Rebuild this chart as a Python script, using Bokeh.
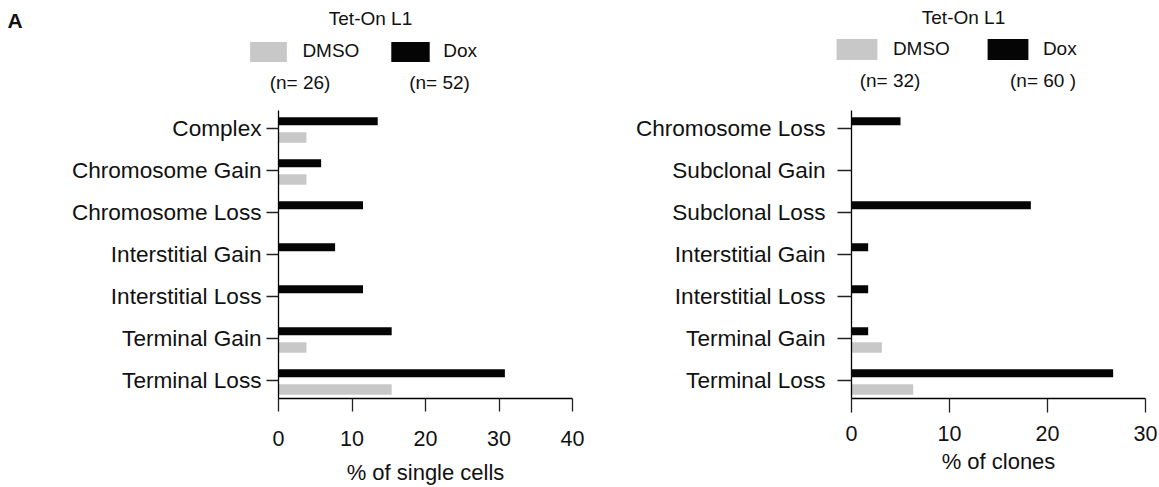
from bokeh.plotting import figure
from bokeh.layouts import row, column
from bokeh.models import (ColumnDataSource, Range1d, FixedTicker, Label, Legend, LegendItem)
from bokeh.transform import dodge
from bokeh.embed import file_html
from bokeh.resources import INLINE

FONT = "Liberation Sans"

# Panel 1: single cells (Tet-On L1)
cells_categories = ["Complex", "Chromosome Gain", "Chromosome Loss", "Interstitial Gain",
                    "Interstitial Loss", "Terminal Gain", "Terminal Loss"]
cells_dmso = [3.8, 3.8, 0.0, 0.0, 0.0, 3.8, 15.4]
cells_dox = [13.5, 5.8, 11.5, 7.7, 11.5, 15.4, 30.8]
cells_n = ["(n= 26)", "(n= 52)"]
cells_ticks = [0, 10, 20, 30, 40]

# Panel 2: clones (Tet-On L1)
clone_categories = ["Chromosome Loss", "Subclonal Gain", "Subclonal Loss", "Interstitial Gain",
                    "Interstitial Loss", "Terminal Gain", "Terminal Loss"]
clone_dmso = [0.0, 0.0, 0.0, 0.0, 0.0, 3.1, 6.3]
clone_dox = [5.0, 0.0, 18.3, 1.7, 1.7, 1.7, 26.7]
clone_n = ["(n= 32)", "(n= 60 )"]
clone_ticks = [0, 10, 20, 30]

treatments = ["DMSO", "Dox"]
colors = {"DMSO": "#c8c8c8", "Dox": "#050505"}
TEXT = "#111111"
HEADER_H = 100


def make_panel(categories, dmso, dox, xmax, ticks, xlabel, width, border_left, border_right,
               border_top, border_bottom, ylab_standoff, ytick_out, xtick_out, xlab_standoff,
               xtitle_standoff):
    n = len(categories)
    pos = [n - 1 - i for i in range(n)]
    src = ColumnDataSource(dict(pos=pos, dmso=dmso, dox=dox))
    p = figure(width=width, height=487 - HEADER_H, frame_width=294, frame_height=288,
               x_range=Range1d(0, xmax), y_range=Range1d(-0.43, n - 1 + 0.43),
               output_backend="svg", toolbar_location=None,
               min_border_left=border_left, min_border_right=border_right,
               min_border_top=border_top, min_border_bottom=border_bottom)
    p.outline_line_color = None
    p.grid.visible = False
    p.background_fill_color = None
    p.border_fill_color = None

    # Dox bar sits just above each category tick, DMSO just below
    p.hbar(y=dodge("pos", 0.174), left=0, right="dox", height=0.19, source=src,
           fill_color=colors["Dox"], line_color=None)
    p.hbar(y=dodge("pos", -0.214), left=0, right="dmso", height=0.25, source=src,
           fill_color=colors["DMSO"], line_color=None)

    ya = p.yaxis[0]
    ya.ticker = FixedTicker(ticks=pos)
    ya.major_label_overrides = {pv: c for pv, c in zip(pos, categories)}
    ya.minor_tick_line_color = None
    ya.major_tick_in = 0
    ya.major_tick_out = ytick_out
    ya.major_label_standoff = ylab_standoff
    ya.major_label_text_font = FONT
    ya.major_label_text_font_size = "22.6px"
    ya.major_label_text_color = TEXT
    ya.axis_line_color = "#000000"
    ya.axis_line_width = 1.3
    ya.major_tick_line_color = "#222222"
    ya.major_tick_line_width = 1.3

    xa = p.xaxis[0]
    xa.ticker = FixedTicker(ticks=ticks)
    xa.minor_tick_line_color = None
    xa.major_tick_in = 0
    xa.major_tick_out = xtick_out
    xa.major_label_standoff = xlab_standoff
    xa.major_label_text_font = FONT
    xa.major_label_text_font_size = "21.5px"
    xa.major_label_text_color = TEXT
    xa.axis_label = xlabel
    xa.axis_label_text_font = FONT
    xa.axis_label_text_font_size = "22px"
    xa.axis_label_text_font_style = "normal"
    xa.axis_label_text_color = TEXT
    xa.axis_label_standoff = xtitle_standoff
    xa.axis_line_color = "#000000"
    xa.axis_line_width = 1.3
    xa.major_tick_line_color = "#222222"
    xa.major_tick_line_width = 1.3
    return p


def make_header(width, title_xy, swatches, n_labels, n_y):
    h = figure(width=width, height=HEADER_H, x_range=Range1d(0, width),
               y_range=Range1d(0, HEADER_H), output_backend="svg", toolbar_location=None,
               x_axis_location=None, y_axis_location=None, min_border=0)
    h.outline_line_color = None
    h.grid.visible = False
    h.background_fill_color = None
    h.border_fill_color = None
    h.add_layout(Label(x=title_xy[0], y=title_xy[1], x_units="screen", y_units="screen",
                       text="Tet-On L1", text_font=FONT, text_font_size="19px",
                       text_align="center", text_baseline="middle", text_color=TEXT))
    # swatch spec: left edge, bottom edge (from header bottom), width, height, text gap
    for name, (sl, sb, sw, sh, gap) in zip(treatments, swatches):
        # key renderer: a zero-length bar kept below the visible header area
        r = h.hbar(y=[-50], left=[0], right=[0], height=1,
                   fill_color=colors[name], line_color=None)
        # legend area keys are inset by 10% on each side
        gw, gh = sw / 0.8, sh / 0.8
        lx, ly = sl - 0.1 * gw, sb - 0.1 * gh
        lg = Legend(items=[LegendItem(label=name, renderers=[r])],
                    location=(lx, ly), orientation="horizontal",
                    glyph_width=round(gw), glyph_height=round(gh), label_height=round(gh),
                    label_standoff=round(gap - 0.1 * gw),
                    padding=0, margin=0, spacing=0,
                    border_line_color=None, background_fill_alpha=0,
                    label_text_font=FONT, label_text_font_size="19px",
                    label_text_color=TEXT)
        h.add_layout(lg, "center")
    for text, nx in zip(n_labels[0], n_labels[1]):
        h.add_layout(Label(x=nx, y=n_y, x_units="screen", y_units="screen", text=text,
                           text_font=FONT, text_font_size="19px", text_align="center",
                           text_baseline="middle", text_color=TEXT))
    return h


h1 = make_header(600, (370, 82), [(250, 39, 37, 20, 16), (391, 39, 38, 20, 14)],
                 (cells_n, [299.5, 439]), 18)
h1.add_layout(Label(x=7, y=80, x_units="screen", y_units="screen", text="A",
                    text_font=FONT, text_font_size="21px", text_font_style="bold",
                    text_align="left", text_baseline="middle", text_color=TEXT))
h2 = make_header(559, (363, 83), [(236, 41, 41, 21, 16), (387, 41, 41, 21, 15)],
                 (clone_n, [289.5, 442.5]), 20)

p1 = make_panel(cells_categories, cells_dmso, cells_dox, 40, cells_ticks,
                "% of single cells", 600, 278, 28, 10, 89,
                ylab_standoff=5, ytick_out=12, xtick_out=13, xlab_standoff=19,
                xtitle_standoff=11)
p2 = make_panel(clone_categories, clone_dmso, clone_dox, 30, clone_ticks,
                "% of clones", 559, 251, 14, 6, 93,
                ylab_standoff=12, ytick_out=14, xtick_out=14, xlab_standoff=13,
                xtitle_standoff=5)

layout = column(row(h1, h2), row(p1, p2))
open("out.html", "w").write(file_html(layout, INLINE))
